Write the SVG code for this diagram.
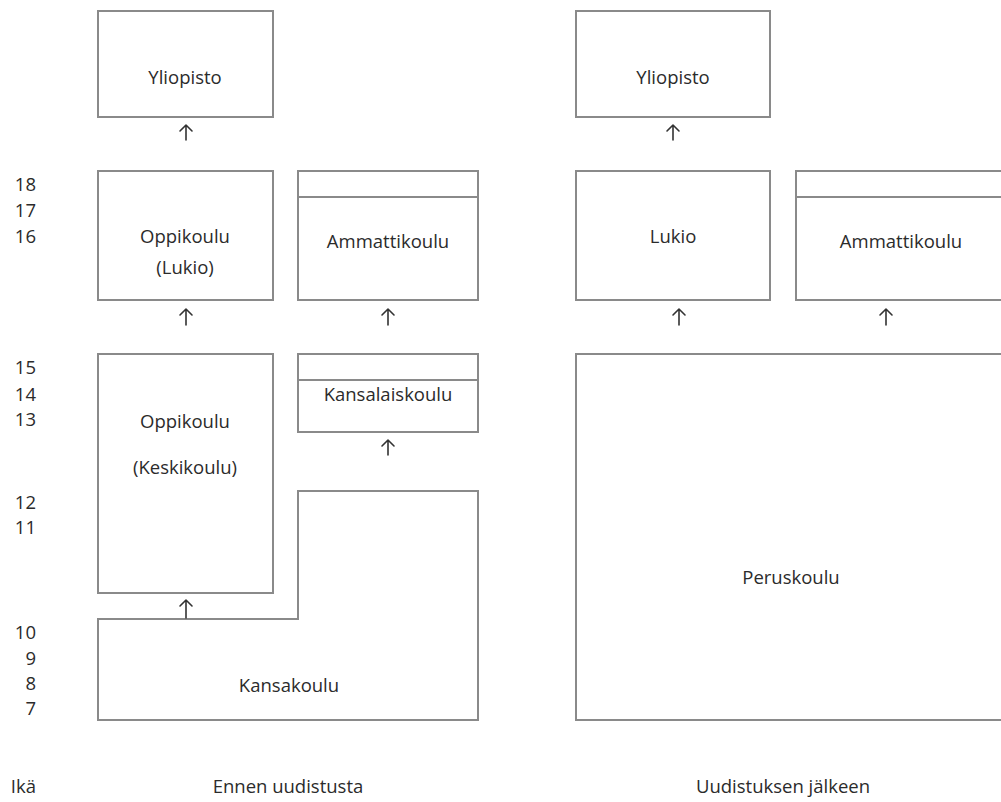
<svg xmlns="http://www.w3.org/2000/svg" width="1001" height="802" viewBox="0 0 1001 802">
<defs>
<style>
.box{fill:none;stroke:#8a8a8a;stroke-width:2}
.t{font-family:"Open Sans","Liberation Sans",sans-serif;font-size:18.5px;fill:#2b2b2b;text-anchor:middle}
.age{font-family:"Open Sans","Liberation Sans",sans-serif;font-size:18.5px;fill:#2b2b2b;text-anchor:end}
.arr{fill:none;stroke:#333;stroke-width:1.6;stroke-linecap:round;stroke-linejoin:round}
</style>
</defs>
<rect width="1001" height="802" fill="#fff"/>
<g id="ages">
<text class="age" x="36" y="191">18</text>
<text class="age" x="36" y="217">17</text>
<text class="age" x="36" y="243">16</text>
<text class="age" x="36" y="374">15</text>
<text class="age" x="36" y="401">14</text>
<text class="age" x="36" y="426">13</text>
<text class="age" x="36" y="509">12</text>
<text class="age" x="36" y="534">11</text>
<text class="age" x="36" y="639">10</text>
<text class="age" x="36" y="665">9</text>
<text class="age" x="36" y="690">8</text>
<text class="age" x="36" y="715">7</text>
<text class="age" x="36" y="793">Ikä</text>
</g>
<g id="yliopisto-old">
<rect class="box" x="98" y="11" width="175" height="106"/>
<text class="t" x="185" y="84">Yliopisto</text>
</g>
<g id="oppikoulu-lukio">
<rect class="box" x="98" y="171" width="175" height="129"/>
<text class="t" x="185" y="243">Oppikoulu</text>
<text class="t" x="185" y="274">(Lukio)</text>
</g>
<g id="ammattikoulu-old">
<rect class="box" x="298" y="171" width="180" height="129"/>
<line class="box" x1="298" y1="197" x2="478" y2="197"/>
<text class="t" x="388" y="248">Ammattikoulu</text>
</g>
<g id="oppikoulu-keskikoulu">
<rect class="box" x="98" y="354" width="175" height="239"/>
<text class="t" x="185" y="428">Oppikoulu</text>
<text class="t" x="185" y="474">(Keskikoulu)</text>
</g>
<g id="kansalaiskoulu">
<rect class="box" x="298" y="354" width="180" height="78"/>
<line class="box" x1="298" y1="380" x2="478" y2="380"/>
<text class="t" x="388" y="401">Kansalaiskoulu</text>
</g>
<g id="kansakoulu">
<polygon class="box" points="98,619 298,619 298,491 478,491 478,720 98,720"/>
<text class="t" x="289" y="692">Kansakoulu</text>
</g>
<g id="yliopisto-new">
<rect class="box" x="576" y="11" width="194" height="106"/>
<text class="t" x="673" y="84">Yliopisto</text>
</g>
<g id="lukio">
<rect class="box" x="576" y="171" width="194" height="129"/>
<text class="t" x="673" y="243">Lukio</text>
</g>
<g id="ammattikoulu-new">
<rect class="box" x="796" y="171" width="215" height="129"/>
<line class="box" x1="796" y1="197" x2="1011" y2="197"/>
<text class="t" x="901" y="248">Ammattikoulu</text>
</g>
<g id="peruskoulu">
<rect class="box" x="576" y="354" width="435" height="366"/>
<text class="t" x="791" y="584">Peruskoulu</text>
</g>
<g id="captions">
<text class="t" x="288" y="793">Ennen uudistusta</text>
<text class="t" x="783" y="793">Uudistuksen jälkeen</text>
</g>
<g id="connectors">
<path class="arr" d="M186,140 V125 M180,131 L186,125 L192,131"/>
<path class="arr" d="M186,325 V309 M180,315 L186,309 L192,315"/>
<path class="arr" d="M388,325 V309 M382,315 L388,309 L394,315"/>
<path class="arr" d="M388,455 V440 M382,446 L388,440 L394,446"/>
<path class="arr" d="M186,618 V600 M180,606 L186,600 L192,606"/>
<path class="arr" d="M673,140 V125 M667,131 L673,125 L679,131"/>
<path class="arr" d="M679,325 V309 M673,315 L679,309 L685,315"/>
<path class="arr" d="M886,325 V309 M880,315 L886,309 L892,315"/>
</g>
</svg>
